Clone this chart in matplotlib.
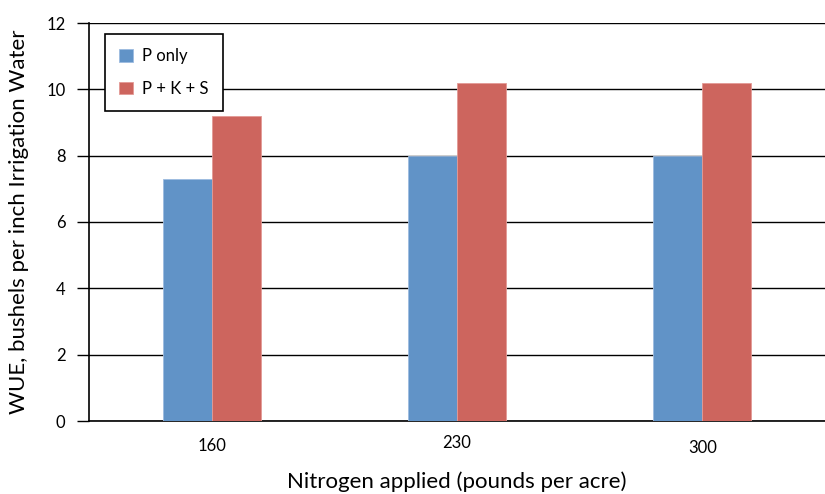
import numpy as np
import matplotlib.pyplot as plt
import matplotlib.transforms as mtrans

plt.rcParams['font.family'] = ['Lato', 'DejaVu Sans']

nitrogen = ['160', '230', '300']
p_only = [7.3, 8.0, 8.0]
p_k_s = [9.2, 10.2, 10.2]

fig = plt.figure(figsize=(8.25, 4.94), dpi=100)
ax = fig.add_axes([89 / 825, 1 - 421 / 494, 736 / 825, 398 / 494])

x = np.arange(len(nitrogen))
w = 0.2
ax.bar(x - w / 2, p_only, w, color='#6193c7', edgecolor='#9dbbe0', linewidth=0.6,
       label='P only', zorder=3)
ax.bar(x + w / 2, p_k_s, w, color='#cd655e', edgecolor='#e39a95', linewidth=0.6,
       label='P + K + S', zorder=3)

ax.set_xlim(-0.5, 2.5)
ax.set_ylim(0, 12)
ax.set_yticks(range(0, 13, 2))
ax.yaxis.grid(True, color='black', linewidth=1.0, zorder=0)
ax.tick_params(axis='y', length=9, width=1, labelsize=12, pad=8)
ax.set_xticks(x)
ax.set_xticklabels(nitrogen)
ax.tick_params(axis='x', length=0, labelsize=12, pad=11)
# the original labels sit at slightly different heights
for lab, dy in zip(ax.get_xticklabels(), [-2, 1, -4]):
    lab.set_transform(lab.get_transform() + mtrans.ScaledTranslation(0, dy / 100, fig.dpi_scale_trans))

for s in ['top', 'right']:
    ax.spines[s].set_visible(False)
ax.spines['left'].set_linewidth(1.2)
ax.spines['bottom'].set_linewidth(1.2)

ax.set_ylabel('WUE, bushels per inch Irrigation Water', fontsize=16, labelpad=12)
ax.set_xlabel('Nitrogen applied (pounds per acre)', fontsize=16, labelpad=11)

leg = ax.legend(loc='upper left', bbox_to_anchor=(16 / 736, 1 - 11 / 398), fontsize=12,
                fancybox=False, edgecolor='black', framealpha=1,
                handlelength=0.8, handleheight=0.8, borderpad=0.85, labelspacing=1.0,
                handletextpad=0.6, borderaxespad=0)
leg.get_frame().set_linewidth(1.2)

fig.savefig('out.png', dpi=100)
